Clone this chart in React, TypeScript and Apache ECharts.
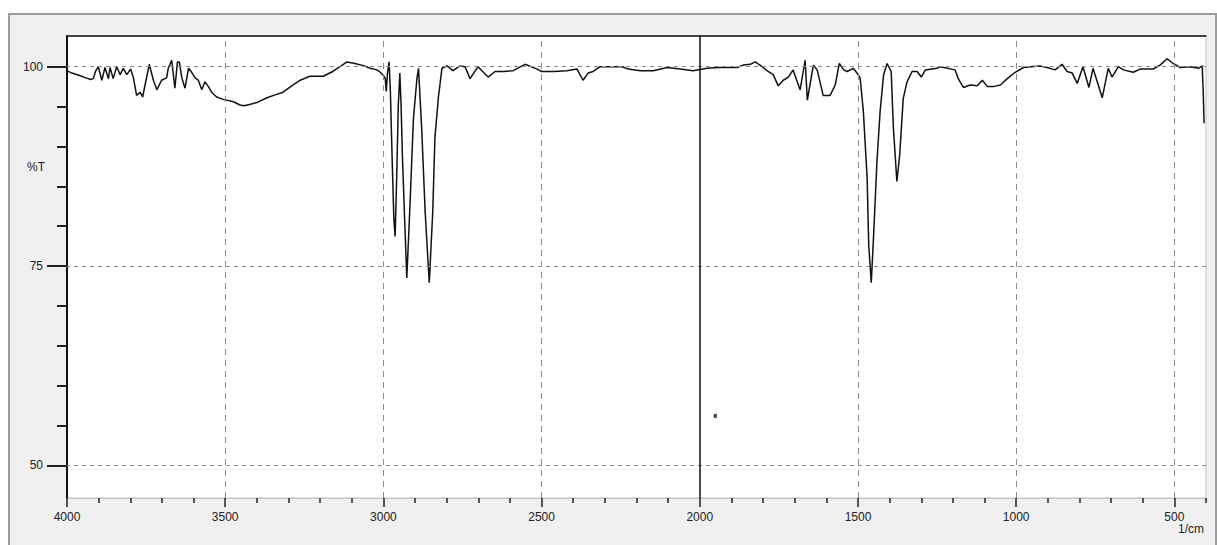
import React, { useEffect, useRef } from "react";
import * as echarts from "echarts";

// Spectrum: wavenumber (1/cm) and %T
const wavenumbers = [
  4000, 3985, 3960, 3940, 3925, 3917, 3910, 3901, 3890, 3880, 3869, 3864, 3854, 3843, 3832, 3822, 3811, 3799,
  3790, 3780, 3769, 3761, 3740, 3727, 3716, 3701, 3685, 3680, 3669, 3659, 3651, 3645, 3637, 3627, 3616, 3606,
  3595, 3585, 3574, 3564, 3553, 3543, 3527, 3506, 3474, 3453, 3440, 3420, 3400, 3368, 3340, 3317, 3290, 3263,
  3232, 3190, 3160, 3130, 3115, 3090, 3060, 3042, 3020, 3010, 3000, 2994, 2991, 2987, 2982, 2978, 2972, 2967,
  2963, 2958, 2953, 2948, 2944, 2940, 2933, 2926, 2916, 2905, 2894, 2889, 2879, 2868, 2855, 2844, 2837, 2826,
  2815, 2799, 2780, 2758, 2742, 2726, 2701, 2669, 2647, 2620, 2590, 2552, 2514, 2500, 2460, 2420, 2388, 2369,
  2353, 2337, 2315, 2245, 2226, 2188, 2147, 2103, 2062, 2021, 1977, 1940, 1882, 1863, 1840, 1825, 1803, 1784,
  1768, 1752, 1736, 1720, 1705, 1683, 1667, 1660, 1641, 1629, 1610, 1588, 1572, 1559, 1545, 1534, 1515, 1499,
  1493, 1483, 1471, 1466, 1458, 1451, 1440, 1430, 1419, 1408, 1395, 1388, 1377, 1368, 1357, 1345, 1329, 1313,
  1300, 1287, 1250, 1240, 1193, 1183, 1167, 1145, 1123, 1107, 1091, 1072, 1050, 1028, 1003, 977, 955, 924,
  902, 877, 855, 839, 823, 807, 789, 770, 757, 728, 709, 697, 677, 661, 630, 608, 567, 545,
  523, 504, 481, 450, 424, 412, 409, 406,
];
const transmittance = [
  99.5, 99.2, 98.9, 98.6, 98.4, 98.5, 99.4, 100, 98.3, 99.9, 98.5, 99.9, 98.5, 100, 99, 99.8, 99, 99.7,
  98.6, 96.4, 96.8, 96.2, 100.3, 98.3, 97.1, 98.3, 98.6, 99.8, 100.8, 97.3, 100.6, 100.6, 98.6, 97.3, 99.8, 99.3,
  98.6, 98.3, 97.1, 98.1, 97.5, 96.8, 96.2, 95.9, 95.6, 95.2, 95.1, 95.3, 95.5, 96.1, 96.5, 96.8, 97.6, 98.3,
  98.8, 98.8, 99.4, 100.2, 100.6, 100.4, 100.1, 99.8, 99.6, 99.3, 98.9, 98.5, 96.9, 99.2, 100.6, 97, 88, 81,
  78.7, 86, 95, 99.2, 95, 89, 81, 73.5, 82.6, 93.5, 98.5, 99.8, 92.3, 81.8, 72.9, 81.8, 91.2, 96.2,
  99.8, 100.1, 99.5, 100.1, 100, 98.5, 100, 98.7, 99.4, 99.4, 99.5, 100.3, 99.7, 99.4, 99.4, 99.5, 99.7, 98.3,
  99.2, 99.4, 100, 100, 99.7, 99.5, 99.5, 99.9, 99.7, 99.5, 99.8, 99.9, 99.9, 100.2, 100.3, 100.6, 100, 99.4,
  99, 97.6, 98.3, 98.7, 99.6, 97.1, 100.8, 95.8, 100.2, 99.6, 96.4, 96.4, 97.7, 100.4, 99.6, 99.4, 99.8, 99,
  98.5, 94.4, 86, 77.6, 72.9, 78.5, 88.1, 94.4, 99, 100.4, 99.4, 92.3, 85.6, 89, 96, 98.1, 99.4, 99.4,
  98.7, 99.6, 99.8, 100, 99.6, 98.5, 97.4, 97.7, 97.6, 98.3, 97.5, 97.5, 97.7, 98.5, 99.3, 99.9, 100, 100.1,
  99.9, 99.6, 100.3, 99.4, 99.2, 97.9, 100, 97.4, 99.8, 96.1, 99.8, 98.7, 100, 99.6, 99.3, 99.7, 99.7, 100.2,
  101, 100.4, 99.9, 100, 99.8, 100.1, 97.1, 92.9,
];

const xMin = 400;
const xMax = 4000;
const yMin = 45.9;
const yMax = 103.85;
const xMajorTicks = [4000, 3500, 3000, 2500, 2000, 1500, 1000, 500];
const xMinorTicks = [
  3900, 3800, 3700, 3600, 3400, 3300, 3200, 3100, 2900, 2800, 2700, 2600, 2400, 2300, 2200, 2100,
  1900, 1800, 1700, 1600, 1400, 1300, 1200, 1100, 900, 800, 700, 600, 400,
];
const yMajorTicks = [50, 75, 100];
const yMinorTicks = [55, 60, 65, 70, 80, 85, 90, 95];
const xGridLines = [3500, 3000, 2500, 1500, 1000, 500];
const yGridLines = [50, 75, 100];
const cursorLine = 2000;
const dotPoint = [1951, 56.2];
const yAxisTitle = "%T";
const xAxisTitle = "1/cm";

const FONT = "'Liberation Sans', Arial, sans-serif";

export default function App() {
  const ref = useRef<HTMLDivElement>(null);

  useEffect(() => {
    if (!ref.current) return;
    const chart = echarts.init(ref.current, undefined, { renderer: "svg" });
    const spectrum = wavenumbers.map((w, i) => [w, transmittance[i]]);
    const gridDash = { color: "#8c8c8c", width: 1, type: [4, 4] as any };
    const vDash = { color: "#8c8c8c", width: 1, type: [6, 5] as any };
    const plain = (v: number) => String(v);

    const xBase = {
      type: "value" as const,
      min: xMin,
      max: xMax,
      inverse: true,
      gridIndex: 0,
      splitLine: { show: false },
    };
    const yBase = {
      type: "value" as const,
      min: yMin,
      max: yMax,
      gridIndex: 0,
      splitLine: { show: false },
    };

    chart.setOption({
      animation: false,
      backgroundColor: "transparent",
      grid: {
        left: 67,
        top: 36,
        width: 1139,
        height: 462,
        show: true,
        backgroundColor: "#ffffff",
        borderColor: "#c4c4c4",
        borderWidth: 1,
        containLabel: false,
        outerBoundsMode: "none",
      },
      xAxis: [
        {
          ...xBase,
          position: "bottom",
          axisLine: { show: true, lineStyle: { color: "#c4c4c4", width: 1 } },
          axisTick: {
            show: true,
            customValues: xMajorTicks,
            length: 9,
            lineStyle: { color: "#222", width: 1.5 },
          },
          axisLabel: {
            show: true,
            customValues: xMajorTicks,
            formatter: plain,
            margin: 13,
            fontSize: 12,
            fontFamily: FONT,
            color: "#222",
          },
        },
        {
          ...xBase,
          position: "bottom",
          axisLine: { show: false },
          axisTick: {
            show: true,
            customValues: xMinorTicks,
            length: 5,
            lineStyle: { color: "#222", width: 1.5 },
          },
          axisLabel: { show: false },
        },
        {
          ...xBase,
          position: "top",
          axisLine: { show: true, lineStyle: { color: "#111", width: 1.5 } },
          axisTick: { show: false },
          axisLabel: { show: false },
        },
      ],
      yAxis: [
        {
          ...yBase,
          position: "left",
          axisLine: { show: true, lineStyle: { color: "#111", width: 2 } },
          axisTick: {
            show: true,
            customValues: yMajorTicks,
            length: 20,
            lineStyle: { color: "#222", width: 2 },
          },
          axisLabel: {
            show: true,
            customValues: yMajorTicks,
            formatter: plain,
            margin: 24,
            fontSize: 12,
            fontFamily: FONT,
            color: "#222",
          },
        },
        {
          ...yBase,
          position: "left",
          axisLine: { show: false },
          axisTick: {
            show: true,
            customValues: yMinorTicks,
            length: 10,
            lineStyle: { color: "#222", width: 2 },
          },
          axisLabel: { show: false },
        },
      ],
      series: [
        {
          name: "grid",
          type: "line",
          xAxisIndex: 0,
          yAxisIndex: 0,
          data: [],
          z: 1,
          silent: true,
          markLine: {
            silent: true,
            symbol: ["none", "none"],
            label: { show: false },
            animation: false,
            data: [
              ...xGridLines.map((v) => ({ xAxis: v, lineStyle: vDash })),
              ...yGridLines.map((v) => ({ yAxis: v, lineStyle: gridDash })),
              { xAxis: cursorLine, lineStyle: { color: "#111", width: 1.5, type: "solid" } },
            ],
          },
        },
        {
          name: "spectrum",
          type: "line",
          xAxisIndex: 0,
          yAxisIndex: 0,
          data: spectrum,
          showSymbol: false,
          symbol: "none",
          z: 3,
          lineStyle: { color: "#111", width: 1.5 },
          clip: true,
        },
        {
          name: "dot",
          type: "scatter",
          xAxisIndex: 0,
          yAxisIndex: 0,
          data: [dotPoint],
          symbol: "rect",
          symbolSize: [3, 4],
          itemStyle: { color: "#111" },
          z: 4,
        },
      ],
      graphic: [
        {
          type: "text",
          left: 27,
          top: 161,
          style: { text: yAxisTitle, fontSize: 12, fontFamily: FONT, fill: "#222" },
        },
        {
          type: "text",
          left: 1178,
          top: 523,
          style: { text: xAxisTitle, fontSize: 12, fontFamily: FONT, fill: "#222" },
        },
      ],
    });
    return () => chart.dispose();
  }, []);

  return (
    <div
      style={{
        position: "absolute",
        left: 0,
        top: 0,
        width: 1217,
        height: 545,
        overflow: "hidden",
        background: "#ffffff",
      }}
    >
      <div
        style={{
          position: "absolute",
          left: 8,
          top: 13,
          width: 1205,
          height: 560,
          background: "#f0f0f0",
          border: "2px solid #9c9c9c",
        }}
      />
      <div ref={ref} style={{ position: "absolute", left: 0, top: 0, width: 1217, height: 545 }} />
    </div>
  );
}
